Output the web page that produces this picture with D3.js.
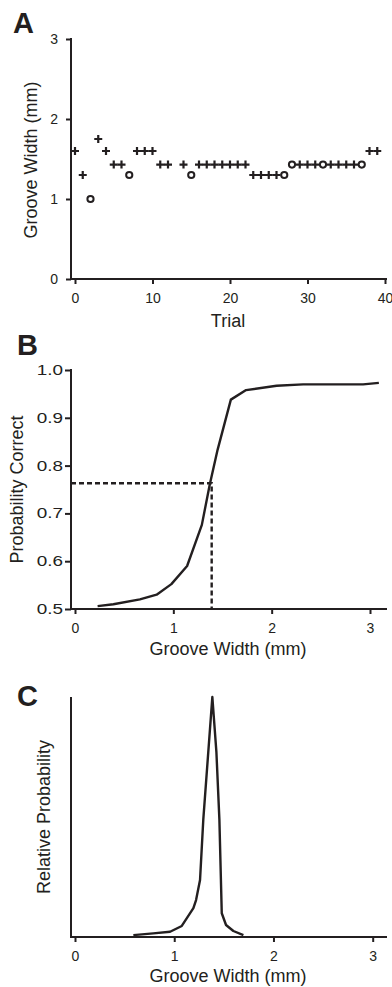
<!DOCTYPE html>
<html>
<head>
<meta charset="utf-8">
<script src="https://cdn.jsdelivr.net/npm/d3@7"></script>
<style>
  body { margin: 0; background: #fff; }
  svg { display: block; font-family: "Liberation Sans", Arial, sans-serif; }
</style>
</head>
<body>
<div id="chart"></div>
<script>
// Panel A: staircase run (trial 13 is not plotted in the source)
const trials = [0, 1, 2, 3, 4, 5, 6, 7, 8, 9, 10, 11, 12, 14, 15, 16, 17, 18, 19, 20,
  21, 22, 23, 24, 25, 26, 27, 28, 29, 30, 31, 32, 33, 34, 35, 36, 37, 38, 39];
const trialWidths = [1.6, 1.3, 1.0, 1.75, 1.6, 1.43, 1.43, 1.3, 1.6, 1.6, 1.6, 1.43, 1.43,
  1.43, 1.3, 1.43, 1.43, 1.43, 1.43, 1.43, 1.43, 1.43, 1.3, 1.3, 1.3, 1.3, 1.3, 1.43,
  1.43, 1.43, 1.43, 1.43, 1.43, 1.43, 1.43, 1.43, 1.43, 1.6, 1.6];
const trialCorrect = [1, 1, 0, 1, 1, 1, 1, 0, 1, 1, 1, 1, 1,
  1, 0, 1, 1, 1, 1, 1, 1, 1, 1, 1, 1, 1, 0, 0,
  1, 1, 1, 0, 1, 1, 1, 1, 0, 1, 1];
const trialTicks = [0, 10, 20, 30, 40];
const widthTicksA = [0, 1, 2, 3];

// Panel B: psychometric function
const fitWidths = [0.23, 0.39, 0.66, 0.83, 0.98, 1.14, 1.29, 1.37, 1.45, 1.585, 1.74, 2.05, 2.32, 2.93, 3.09];
const fitProb = [0.506, 0.51, 0.52, 0.53, 0.552, 0.59, 0.676, 0.76, 0.833, 0.938, 0.958, 0.967, 0.97, 0.97, 0.973];
const threshold = { width: 1.39, prob: 0.763 };
const probTicks = [0.5, 0.6, 0.7, 0.8, 0.9, 1.0];
const grooveTicks = [0, 1, 2, 3];

// Panel C: posterior over threshold
const postWidths = [0.588, 0.789, 0.958, 1.076, 1.193, 1.22, 1.26, 1.293, 1.384, 1.425, 1.455, 1.479, 1.522, 1.596, 1.697];
const postRel = [0.008, 0.015, 0.022, 0.046, 0.12, 0.154, 0.2375, 0.49, 1.0, 0.77, 0.49, 0.099, 0.05, 0.025, 0.008];

const ink = "#231f20";
const W = 392, H = 987;
const axisX = 71;      // every y axis sits here
const axisEnd = 387;   // x axis lines run to here
const titleX = 228;
const intFmt = d3.format("d");

const svg = d3.select("#chart").append("svg").attr("width", W).attr("height", H);

/**
 * Plain axis line (domain drawn by hand so it can start at the y axis)
 */
function axisLine(x1, y1, x2, y2) {
  svg.append("line")
    .attr("x1", x1).attr("y1", y1).attr("x2", x2).attr("y2", y2)
    .attr("stroke", ink).attr("stroke-width", 2);
}

/**
 * Shared tick styling
 */
function styleAxis(g) {
  g.select(".domain").remove();
  g.selectAll(".tick line").attr("stroke", ink).attr("stroke-width", 2);
  g.selectAll(".tick text").attr("fill", ink).attr("font-size", 14);
}

function panelLetter(text, x, y) {
  svg.append("text").attr("x", x).attr("y", y)
    .attr("font-size", 29).attr("font-weight", "bold").attr("fill", ink)
    .text(text);
}

function xTitle(text, y) {
  svg.append("text").attr("x", titleX).attr("y", y)
    .attr("text-anchor", "middle").attr("font-size", 18).attr("fill", ink)
    .text(text);
}

function yTitle(text, x, yMid) {
  svg.append("text")
    .attr("transform", `translate(${x},${yMid}) rotate(-90)`)
    .attr("text-anchor", "middle").attr("font-size", 18).attr("fill", ink)
    .text(text);
}

// ---------- A ----------
{
  const x = d3.scaleLinear().domain([0, 40]).range([75, 385]);
  const y = d3.scaleLinear().domain([0, 3]).range([279, 39]);

  axisLine(axisX, y(3) - 1, axisX, y(0));
  axisLine(axisX - 1, y(0), axisEnd, y(0));

  svg.append("g").attr("transform", `translate(${axisX},0)`)
    .call(d3.axisLeft(y).tickValues(widthTicksA).tickFormat(intFmt).tickSize(5).tickPadding(8))
    .call(styleAxis);
  svg.append("g").attr("transform", `translate(0,${y(0)})`)
    .call(d3.axisBottom(x).tickValues(trialTicks).tickFormat(intFmt).tickSize(5).tickPadding(9))
    .call(styleAxis);

  const pts = trials.map((t, i) => ({ t, w: trialWidths[i], ok: trialCorrect[i] }));

  svg.append("g").selectAll("path").data(pts.filter(d => d.ok)).join("path")
    .attr("transform", d => `translate(${x(d.t)},${y(d.w)})`)
    .attr("d", "M-4,0H4M0,-4V4")
    .attr("stroke", ink).attr("stroke-width", 2.2).attr("fill", "none");

  svg.append("g").selectAll("circle").data(pts.filter(d => !d.ok)).join("circle")
    .attr("cx", d => x(d.t)).attr("cy", d => y(d.w)).attr("r", 3.1)
    .attr("stroke", ink).attr("stroke-width", 2).attr("fill", "#fff");

  panelLetter("A", 13, 33);
  xTitle("Trial", 327);
  yTitle("Groove Width (mm)", 37, 160);
}

// ---------- B ----------
{
  const x = d3.scaleLinear().domain([0, 3]).range([75, 370]);
  const y = d3.scaleLinear().domain([0.5, 1.0]).range([609, 370]);

  axisLine(axisX, y(1.0) - 1, axisX, y(0.5));
  axisLine(axisX - 1, y(0.5), axisEnd, y(0.5));

  const stretch = 1.35;
  svg.append("g").attr("transform", `translate(${axisX},0)`)
    .call(d3.axisLeft(y).tickValues(probTicks).tickFormat(d3.format(".1f")).tickSize(6).tickPadding(2))
    .call(styleAxis)
    .call(g => g.selectAll(".tick text")
      .attr("x", -8 / stretch)
      .attr("transform", `scale(${stretch},1)`));
  svg.append("g").attr("transform", `translate(0,${y(0.5)})`)
    .call(d3.axisBottom(x).tickValues(grooveTicks).tickFormat(intFmt).tickSize(5).tickPadding(9))
    .call(styleAxis);

  // threshold guides
  svg.append("path")
    .attr("d", `M${axisX},${y(threshold.prob)}H${x(threshold.width)}V${y(0.5)}`)
    .attr("fill", "none").attr("stroke", ink).attr("stroke-width", 2.4)
    .attr("stroke-dasharray", "5,3");

  const line = d3.line().x((d, i) => x(fitWidths[i])).y(d => y(d));
  svg.append("path").datum(fitProb)
    .attr("d", line)
    .attr("fill", "none").attr("stroke", ink).attr("stroke-width", 2.4)
    .attr("stroke-linejoin", "round");

  panelLetter("B", 17, 355);
  xTitle("Groove Width (mm)", 655);
  yTitle("Probability Correct", 23, 489.5);
}

// ---------- C ----------
{
  const x = d3.scaleLinear().domain([0, 3]).range([75, 372.7]);
  const y = d3.scaleLinear().domain([0, 1]).range([937, 697]);

  axisLine(axisX, y(1), axisX, y(0));
  axisLine(axisX - 1, y(0), axisEnd, y(0));

  svg.append("g").attr("transform", `translate(0,${y(0)})`)
    .call(d3.axisBottom(x).tickValues(grooveTicks).tickFormat(intFmt).tickSize(5).tickPadding(9))
    .call(styleAxis);

  const line = d3.line().x((d, i) => x(postWidths[i])).y(d => y(d));
  svg.append("path").datum(postRel)
    .attr("d", line)
    .attr("fill", "none").attr("stroke", ink).attr("stroke-width", 2.4)
    .attr("stroke-linejoin", "round");

  panelLetter("C", 17, 706);
  xTitle("Groove Width (mm)", 982);
  yTitle("Relative Probability", 50, 817);
}
</script>
</body>
</html>
